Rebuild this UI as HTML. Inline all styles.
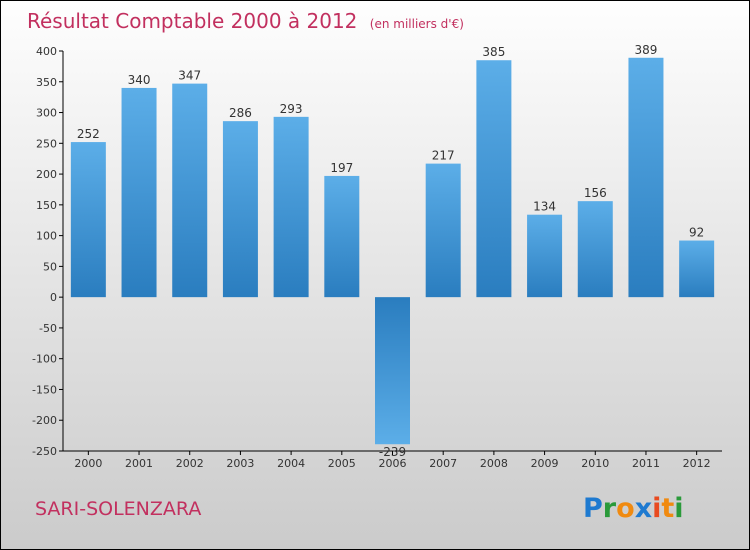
<!DOCTYPE html>
<html><head><meta charset="utf-8"><style>
body{margin:0}
#c{width:748px;height:548px;border:1px solid #000;position:relative;background:linear-gradient(#fefefe,#f4f4f4 20%,#cbcbcb);font-family:"DejaVu Sans","Liberation Sans",sans-serif;overflow:hidden}
</style></head><body>
<div id="c">
<svg width="748" height="548" id="svg">
<defs>
<linearGradient id="gp" x1="0" y1="0" x2="0" y2="1"><stop offset="0" stop-color="#5caee8"/><stop offset="1" stop-color="#2a7dbf"/></linearGradient>
<linearGradient id="gn" x1="0" y1="0" x2="0" y2="1"><stop offset="0" stop-color="#2a7dbf"/><stop offset="1" stop-color="#5caee8"/></linearGradient>
</defs>
<text x="26" y="27" font-size="20" fill="#c2305f">Résultat Comptable 2000 à 2012 <tspan font-size="12" dx="6">(en milliers d'€)</tspan></text>
<text x="34" y="514" font-size="19" fill="#c2305f">SARI-SOLENZARA</text>
<g font-size="27" font-family="DejaVu Sans, sans-serif" font-weight="bold">
<text x="582" y="516"><tspan fill="#1e7ad0">P</tspan><tspan fill="#2a9a3a">r</tspan><tspan fill="#f08a10">o</tspan><tspan fill="#1e7ad0">x</tspan><tspan fill="#e84a20">i</tspan><tspan fill="#f08a10">t</tspan><tspan fill="#2a9a3a">i</tspan></text>
</g>
<g id="plot"></g>
</svg>
</div>
<script>
const years=["2000","2001","2002","2003","2004","2005","2006","2007","2008","2009","2010","2011","2012"];
const values=[252,340,347,286,293,197,-239,217,385,134,156,389,92];
const yTicks=[400,350,300,250,200,150,100,50,0,-50,-100,-150,-200,-250];
const X0=62,X1=721,Y0=50,Y1=450,vmin=-250,vmax=400;
const y=v=>Y0+(vmax-v)/(vmax-vmin)*(Y1-Y0);
const bw=(X1-X0)/years.length;
const xc=i=>X0+bw*(i+0.5);
const g=document.getElementById('plot');
const NS='http://www.w3.org/2000/svg';
function mk(t,a,txt){const e=document.createElementNS(NS,t);for(const k in a)e.setAttribute(k,a[k]);if(txt!==undefined)e.textContent=txt;g.appendChild(e);return e;}
let e=mk('line',{x1:X0,y1:Y0,x2:X0,y2:Y1,stroke:'#000'});


e=mk('line',{x1:X0,y1:Y1,x2:X1,y2:Y1,stroke:'#000'});


yTicks.forEach(v=>{
 const t=mk('line',{x1:X0-4,x2:X0,y1:y(v),y2:y(v),stroke:'#000'});
 
 
 const l=mk('text',{x:X0-6,y:y(v)+4,'font-size':11,'text-anchor':'end',fill:'#333'},String(v));
 
 
});
years.forEach((yr,i)=>{
 const v=values[i],cx=xc(i),w=35;
 const top=v>=0?y(v):y(0),h=Math.abs(y(v)-y(0));
 const b=mk('rect',{x:cx-w/2,y:top,width:w,height:h,fill:v>=0?'url(#gp)':'url(#gn)'});
 
 
 const vl=mk('text',{x:cx,y:v>=0?y(v)-4:y(v)+12,'font-size':12,'text-anchor':'middle',fill:'#333'},String(v));
 
 
 const t=mk('line',{x1:cx,x2:cx,y1:Y1,y2:Y1+4,stroke:'#000'});
 
 
 const l=mk('text',{x:cx,y:Y1+16,'font-size':11,'text-anchor':'middle',fill:'#333'},yr);
 
 
});
</script>
</body></html>
